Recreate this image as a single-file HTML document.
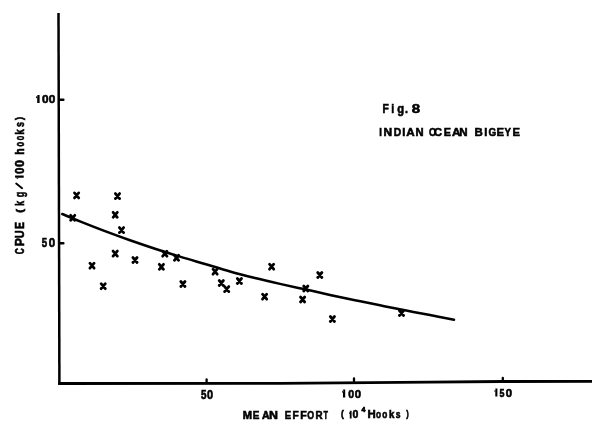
<!DOCTYPE html>
<html><head><meta charset="utf-8"><style>
html,body{margin:0;padding:0;background:#fff;}
body{width:600px;height:429px;overflow:hidden;}
svg{display:block;will-change:transform;}
text{font-family:"Liberation Sans",sans-serif;font-weight:bold;fill:#000;stroke:#000;stroke-width:0.6px;}
</style></head><body>
<svg width="600" height="429" viewBox="0 0 600 429">
<rect width="600" height="429" fill="#fff"/>
<g stroke="#000" fill="none" stroke-linecap="butt">
<path d="M58.5 13 L59.4 384.8" stroke-width="2.5"/>
<path d="M58.2 383.5 L280 383.3 L430 382.2 L502 381.5 L592 381.3" stroke-width="2.8" stroke-linejoin="round"/>
<path d="M59.5 99.7 H63.4 M59.5 243.3 H63.4" stroke-width="2.4" stroke-linecap="round"/>
<path d="M206.6 382.5 V379.3 M354 382 V378.3 M502.8 381.5 V377.8" stroke-width="2.3" stroke-linecap="round"/>
<path d="M62.3 214.04 C65.25 215.26 72.88 218.53 80.0 221.38 C87.12 224.23 96.67 228.00 105.0 231.14 C113.33 234.28 121.67 237.31 130.0 240.24 C138.33 243.17 146.67 245.99 155.0 248.72 C163.33 251.45 171.67 254.08 180.0 256.63 C188.33 259.18 196.67 261.56 205.0 264.03 C213.33 266.50 221.67 269.13 230.0 271.45 C238.33 273.77 246.67 275.88 255.0 277.95 C263.33 280.02 271.67 281.97 280.0 283.87 C288.33 285.77 296.67 287.53 305.0 289.37 C313.33 291.21 321.67 293.09 330.0 294.89 C338.33 296.69 346.67 298.44 355.0 300.17 C363.33 301.90 371.67 303.60 380.0 305.28 C388.33 306.96 396.67 308.60 405.0 310.24 C413.33 311.88 421.83 313.53 430.0 315.12 C438.17 316.71 450.00 319.00 454.0 319.77" stroke-width="2.55" stroke-linecap="round"/>
<path d="M16.2 183.6 L22.1 188.2" stroke-width="1.9" stroke-linecap="round"/>
</g>
<g stroke="#000" fill="none" stroke-width="2.8" stroke-linecap="round">
<path d="M74.50 192.90L78.70 197.90M78.70 192.90L74.50 197.90"/><path d="M115.40 193.60L119.60 198.60M119.60 193.60L115.40 198.60"/><path d="M70.60 215.30L74.80 220.30M74.80 215.30L70.60 220.30"/><path d="M113.10 212.30L117.30 217.30M117.30 212.30L113.10 217.30"/><path d="M119.40 227.60L123.60 232.60M123.60 227.60L119.40 232.60"/><path d="M89.90 263.20L94.10 268.20M94.10 263.20L89.90 268.20"/><path d="M101.10 283.70L105.30 288.70M105.30 283.70L101.10 288.70"/><path d="M113.10 251.10L117.30 256.10M117.30 251.10L113.10 256.10"/><path d="M132.90 257.50L137.10 262.50M137.10 257.50L132.90 262.50"/><path d="M159.30 264.30L163.50 269.30M163.50 264.30L159.30 269.30"/><path d="M162.70 251.20L166.90 256.20M166.90 251.20L162.70 256.20"/><path d="M174.40 255.30L178.60 260.30M178.60 255.30L174.40 260.30"/><path d="M180.80 281.50L185.00 286.50M185.00 281.50L180.80 286.50"/><path d="M213.00 269.20L217.20 274.20M217.20 269.20L213.00 274.20"/><path d="M219.20 280.50L223.40 285.50M223.40 280.50L219.20 285.50"/><path d="M224.60 286.60L228.80 291.60M228.80 286.60L224.60 291.60"/><path d="M237.30 278.50L241.50 283.50M241.50 278.50L237.30 283.50"/><path d="M262.50 294.20L266.70 299.20M266.70 294.20L262.50 299.20"/><path d="M269.50 264.20L273.70 269.20M273.70 264.20L269.50 269.20"/><path d="M300.50 297.00L304.70 302.00M304.70 297.00L300.50 302.00"/><path d="M303.70 286.00L307.90 291.00M307.90 286.00L303.70 291.00"/><path d="M317.70 272.50L321.90 277.50M321.90 272.50L317.70 277.50"/><path d="M330.30 316.50L334.50 321.50M334.50 316.50L330.30 321.50"/><path d="M399.40 310.50L403.60 315.50M403.60 310.50L399.40 315.50"/>
</g>

<text transform="translate(379.27,135.5) scale(0.794,1)" font-size="11.8">I</text><text transform="translate(383.40,135.5) scale(1.009,1)" font-size="11.8">N</text><text transform="translate(393.71,135.5) scale(0.871,1)" font-size="11.8">D</text><text transform="translate(402.16,135.5) scale(0.941,1)" font-size="11.8">I</text><text transform="translate(406.31,135.5) scale(0.985,1)" font-size="11.8">A</text><text transform="translate(415.55,135.5) scale(0.951,1)" font-size="11.8">N</text><text transform="translate(428.92,135.5) scale(0.781,1)" font-size="11.8">O</text><text transform="translate(434.05,135.5) scale(0.933,1)" font-size="11.8">C</text><text transform="translate(443.77,135.5) scale(0.921,1)" font-size="11.8">E</text><text transform="translate(452.11,135.5)" font-size="11.8">A</text><text transform="translate(459.23,135.5) scale(0.980,1)" font-size="11.8">N</text><text transform="translate(474.53,135.5) scale(0.973,1)" font-size="11.8">B</text><text transform="translate(484.36,135.5) scale(0.941,1)" font-size="11.8">I</text><text transform="translate(488.59,135.5) scale(0.841,1)" font-size="11.8">G</text><text transform="translate(496.49,135.5) scale(0.959,1)" font-size="11.8">E</text><text transform="translate(504.44,135.5) scale(0.816,1)" font-size="11.8">Y</text><text transform="translate(512.55,135.5) scale(0.952,1)" font-size="11.8">E</text>
<text transform="translate(382.51,112.6) scale(0.790,1)" font-size="13.1">F</text><text transform="translate(391.26,112.6) scale(0.807,1)" font-size="13.1">i</text><text transform="translate(397.34,112.6) scale(0.858,1)" font-size="13.1">g</text><text transform="translate(404.98,112.6) scale(0.811,1)" font-size="13.1">.</text><text transform="translate(411.82,112.6) scale(1.144,1)" font-size="13.1">8</text>
<path transform="translate(36,102.9)" d="M1.20 -7.98H3.60V0H1.20ZM1.50 -7.78L0.00 -5.78L0.00 -4.38L1.50 -5.78Z" fill="#000"/><text transform="translate(42.03,102.9) scale(1.015,1)" font-size="11.6">0</text><text transform="translate(48.63,102.9) scale(1.015,1)" font-size="11.6">0</text>
<text transform="translate(41.85,246.8) scale(0.799,1)" font-size="12.2">5</text><text transform="translate(48.84,246.8) scale(0.948,1)" font-size="12.2">0</text>
<text transform="translate(201.10,398.5) scale(0.782,1)" font-size="12.6">5</text><text transform="translate(206.97,398.5) scale(0.868,1)" font-size="12.6">0</text>
<path transform="translate(342,397.5)" d="M0.96 -7.98H3.20V0H0.96ZM1.26 -7.78L0.00 -5.78L0.00 -4.38L1.26 -5.78Z" fill="#000"/><text transform="translate(348.28,397.5) scale(0.906,1)" font-size="11.6">0</text><text transform="translate(354.65,397.5) scale(0.979,1)" font-size="11.6">0</text>
<path transform="translate(494.4,396.5)" d="M0.90 -7.98H3.00V0H0.90ZM1.20 -7.78L0.00 -5.78L0.00 -4.38L1.20 -5.78Z" fill="#000"/><text transform="translate(499.43,396.5) scale(0.762,1)" font-size="11.6">5</text><text transform="translate(505.65,396.5) scale(0.979,1)" font-size="11.6">0</text>
<text transform="translate(242.75,419.1) scale(0.987,1)" font-size="11.3">M</text><text transform="translate(252.73,419.1) scale(0.883,1)" font-size="11.3">E</text><text transform="translate(261.94,419.1) scale(0.937,1)" font-size="11.3">A</text><text transform="translate(269.07,419.1) scale(1.099,1)" font-size="11.3">N</text><text transform="translate(284.66,419.1) scale(0.852,1)" font-size="11.3">E</text><text transform="translate(292.61,419.1) scale(0.907,1)" font-size="11.3">F</text><text transform="translate(300.19,419.1) scale(0.942,1)" font-size="11.3">F</text><text transform="translate(307.24,419.1) scale(0.777,1)" font-size="11.3">O</text><text transform="translate(315.49,419.1) scale(0.871,1)" font-size="11.3">R</text><text transform="translate(323.42,419.1) scale(0.646,1)" font-size="11.3">T</text>
<text transform="translate(340.88,417.4) scale(0.868,1)" font-size="9.8">(</text>
<path transform="translate(349,418.4)" d="M0.78 -7.77H2.60V0H0.78ZM1.08 -7.57L0.00 -5.57L0.00 -4.17L1.08 -5.57Z" fill="#000"/><text transform="translate(352.58,418.4) scale(0.930,1)" font-size="11.3">0</text>
<text transform="translate(361.49,412.4) scale(1.013,1)" font-size="7.0">4</text>
<text transform="translate(367.44,418.0) scale(1.046,1)" font-size="10.9">H</text><text transform="translate(375.98,418.0) scale(0.758,1)" font-size="10.9">o</text><text transform="translate(382.28,418.0) scale(0.758,1)" font-size="10.9">o</text><text transform="translate(388.97,418.0) scale(0.894,1)" font-size="10.9">k</text><text transform="translate(395.80,418.0) scale(0.784,1)" font-size="10.9">s</text>
<text transform="translate(406.19,417.4) scale(0.759,1)" font-size="9.8">)</text>
<text transform="translate(23.7,254.25) rotate(-90) scale(0.647,1)" font-size="13">C</text><text transform="translate(23.7,246.32) rotate(-90) scale(0.938,1)" font-size="13">P</text><text transform="translate(23.7,238.26) rotate(-90) scale(0.845,1)" font-size="13">U</text><text transform="translate(23.7,229.00) rotate(-90) scale(0.809,1)" font-size="13">E</text>
<text transform="translate(23.8,205.94) rotate(-90) scale(0.739,1)" font-size="12.5">k</text><text transform="translate(23.8,197.27) rotate(-90) scale(0.716,1)" font-size="12.5">g</text>
<path transform="translate(23.7,178.7) rotate(-90)" d="M0.93 -8.67H3.10V0H0.93ZM1.23 -8.47L0.00 -6.47L0.00 -5.07L1.23 -6.47Z" fill="#000"/><text transform="translate(23.7,174.06) rotate(-90) scale(0.918,1)" font-size="12.6">0</text><text transform="translate(23.7,166.89) rotate(-90) scale(0.985,1)" font-size="12.6">0</text>
<text transform="translate(23.8,154.73) rotate(-90) scale(0.835,1)" font-size="12.5">h</text><text transform="translate(23.8,146.50) rotate(-90) scale(0.616,1)" font-size="12.5">o</text><text transform="translate(23.8,140.19) rotate(-90) scale(0.586,1)" font-size="12.5">o</text><text transform="translate(23.8,134.79) rotate(-90) scale(0.788,1)" font-size="12.5">k</text><text transform="translate(23.8,126.91) rotate(-90) scale(0.717,1)" font-size="12.5">s</text>
<text transform="translate(22.6,212.85) rotate(-90) scale(1.110,1)" font-size="9.9">(</text>
<text transform="translate(23.3,120.11) rotate(-90) scale(0.878,1)" font-size="10.9">)</text>
</svg>
</body></html>
